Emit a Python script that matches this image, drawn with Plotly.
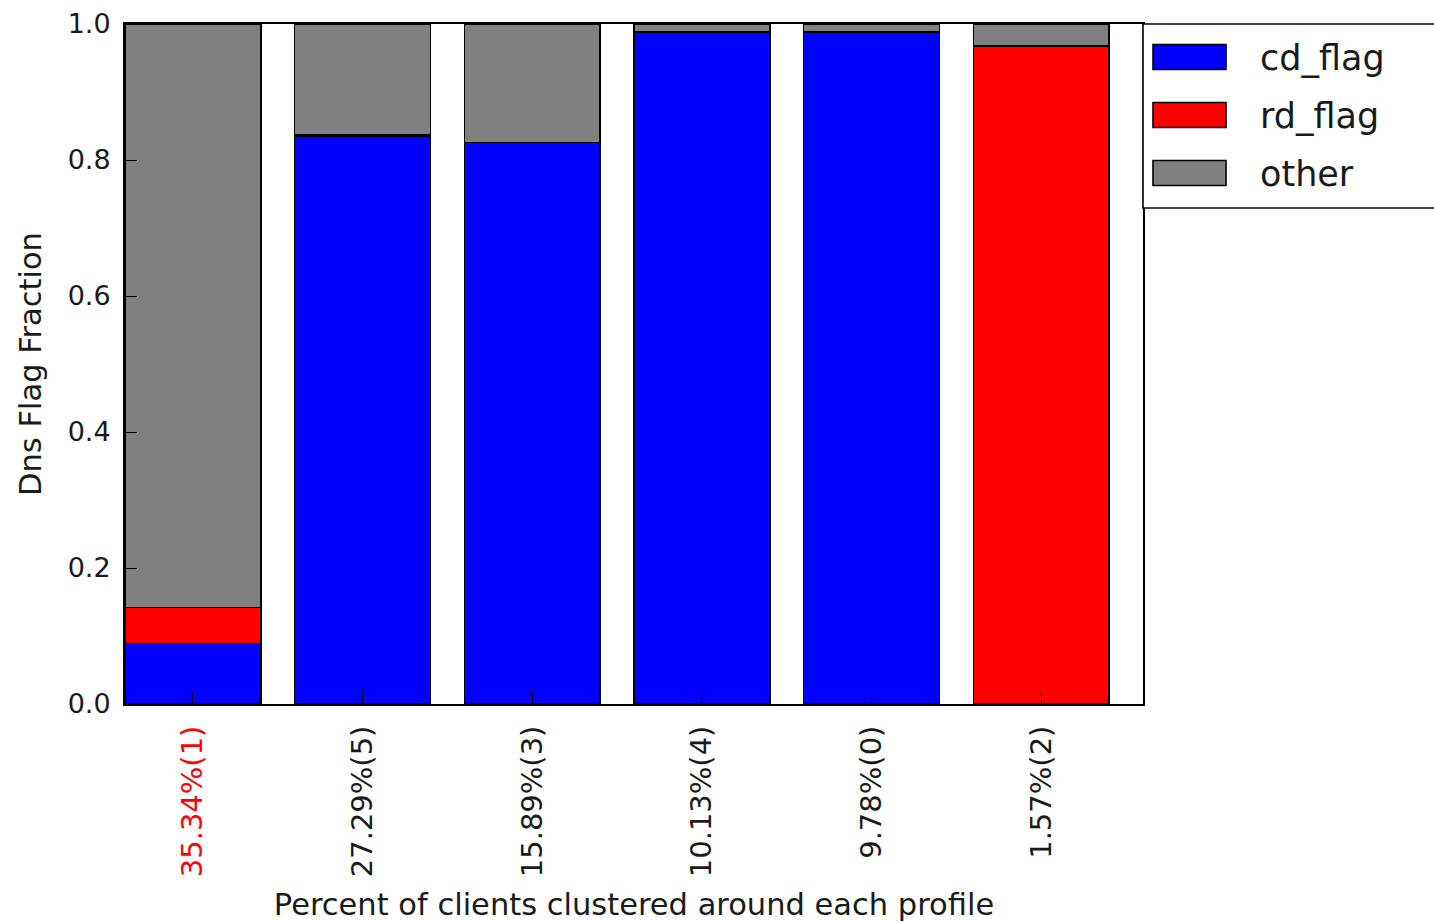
import plotly.graph_objects as go

# Cluster labels (share of clients, cluster id) and per-cluster DNS flag fractions
categories = ["35.34%(1)", "27.29%(5)", "15.89%(3)", "10.13%(4)", "9.78%(0)", "1.57%(2)"]
cd_flag = [0.089, 0.835, 0.826, 0.988, 0.988, 0.0]
rd_flag = [0.053, 0.002, 0.0, 0.0, 0.0, 0.968]
other = [round(1.0 - c - r, 3) for c, r in zip(cd_flag, rd_flag)]

series_names = ["cd_flag", "rd_flag", "other"]
series_values = [cd_flag, rd_flag, other]
series_colors = ["#0000ff", "#ff0000", "#808080"]

# The largest cluster label is highlighted in red
highlight_index = 0
tick_text = [
    f"<span style='color:#ff0000'>{c}</span>" if i == highlight_index else c
    for i, c in enumerate(categories)
]
y_ticks = [0.0, 0.2, 0.4, 0.6, 0.8, 1.0]

FONT = "DejaVu Sans"
x_pos = list(range(len(categories)))

fig = go.Figure()
for name, vals, col in zip(series_names, series_values, series_colors):
    fig.add_trace(go.Bar(
        x=x_pos, y=vals, name=name, width=0.8,
        marker=dict(color=col, line=dict(color="#000000", width=1.6)),
        showlegend=False,
    ))

# Legend box placed against the right edge of the axes
shapes = [dict(type="rect", xref="paper", yref="paper",
               x0=1.0, x1=1.32, y0=1.0 - 184 / 680, y1=1.0,
               line=dict(color="#000000", width=1.6), fillcolor="#ffffff",
               layer="above")]
annotations = []
plot_w, plot_h = 1018.0, 680.0
item_centers_px = [33, 91, 149]  # offsets from the top of the axes
for name, col, cy in zip(series_names, series_colors, item_centers_px):
    y0 = 1.0 - (cy + 12.5) / plot_h
    y1 = 1.0 - (cy - 12.5) / plot_h
    shapes.append(dict(type="rect", xref="paper", yref="paper",
                       x0=1.0 + 10 / plot_w, x1=1.0 + 83 / plot_w, y0=y0, y1=y1,
                       line=dict(color="#000000", width=1.6), fillcolor=col,
                       layer="above"))
    annotations.append(dict(xref="paper", yref="paper",
                            x=1.0 + 115 / plot_w, y=1.0 - (cy + 1) / plot_h,
                            xanchor="left", yanchor="middle", showarrow=False,
                            text=name, font=dict(family=FONT, size=35, color="#1a1a1a")))

fig.update_layout(
    width=1434, height=922, autosize=False,
    margin=dict(l=125, r=291, t=24, b=218),
    paper_bgcolor="#ffffff", plot_bgcolor="#ffffff",
    barmode="stack", bargap=0.2,
    font=dict(family=FONT, color="#1a1a1a"),
    shapes=shapes, annotations=annotations,
    xaxis=dict(
        range=[-0.4, 5.6], tickvals=x_pos, ticktext=tick_text, tickangle=-90,
        ticks="inside", ticklen=12, tickwidth=1.3, tickcolor="#000000",
        ticklabelstandoff=8, automargin=False,
        showline=True, linecolor="#000000", linewidth=2, mirror=True,
        showgrid=False, zeroline=False,
        tickfont=dict(family=FONT, size=29, color="#1a1a1a"),
        title=dict(text="Percent of clients clustered around each profile",
                   font=dict(family=FONT, size=30.5, color="#1a1a1a"), standoff=24),
    ),
    yaxis=dict(
        range=[0, 1.0], tickvals=y_ticks, tickformat=".1f",
        ticks="inside", ticklen=12, tickwidth=1.3, tickcolor="#000000",
        ticklabelstandoff=7, automargin=False,
        showline=True, linecolor="#000000", linewidth=2, mirror=True,
        showgrid=False, zeroline=False,
        tickfont=dict(family=FONT, size=27, color="#1a1a1a"),
        title=dict(text="Dns Flag Fraction",
                   font=dict(family=FONT, size=30.5, color="#1a1a1a"), standoff=17),
    ),
)

fig.write_html("out.html")
